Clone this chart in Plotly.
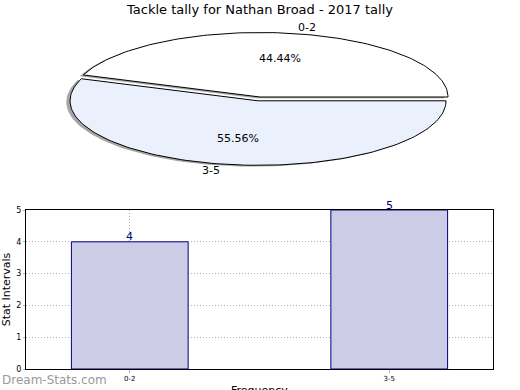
import numpy as np
import plotly.graph_objects as go

# ---- data ----
TITLE = "Tackle tally for Nathan Broad - 2017 tally"
pie_labels = ["0-2", "3-5"]
pie_values = [4, 5]
bar_categories = ["0-2", "3-5"]
bar_values = [4, 5]
y_ticks = [0, 1, 2, 3, 4, 5]

# ---- styles ----
FONT = "DejaVu Sans"
pie_colors = ["#FFFFFF", "#EBF1FC"]
explode = [0.0, 0.06]
bar_fill = "#CCCCE6"
bar_edge = "#000080"

W, H = 520, 390

def py(p):  # pixel-from-top -> paper y
    return 1 - p / H

def px(p):
    return p / W

fig = go.Figure()

# ---- pie drawn as an elliptical (tilted) pie on hidden axes ----
total = float(sum(pie_values))
start = 0.0
wedges = []
for lab, val, col, ex in zip(pie_labels, pie_values, pie_colors, explode):
    frac = val / total
    t1 = start
    t2 = start + frac * 360.0
    mid = np.deg2rad((t1 + t2) / 2)
    cx, cy = ex * np.cos(mid), ex * np.sin(mid)
    th = np.deg2rad(np.linspace(t1, t2, 120))
    xs = np.concatenate([[cx], cx + np.cos(th), [cx]])
    ys = np.concatenate([[cy], cy + np.sin(th), [cy]])
    wedges.append((lab, frac, col, cx, cy, mid, xs, ys))
    start = t2

# shadows first
for lab, frac, col, cx, cy, mid, xs, ys in wedges:
    fig.add_trace(go.Scatter(x=xs - 0.02, y=ys - 0.02, mode="lines", fill="toself",
                             fillcolor="rgba(77,77,77,0.5)", line=dict(width=0),
                             hoverinfo="skip", showlegend=False, xaxis="x2", yaxis="y2"))
for lab, frac, col, cx, cy, mid, xs, ys in wedges:
    fig.add_trace(go.Scatter(x=xs, y=ys, mode="lines", fill="toself", fillcolor=col,
                             line=dict(color="black", width=1), hoverinfo="skip",
                             showlegend=False, xaxis="x2", yaxis="y2"))
    # label
    lx, ly = cx + 1.1 * np.cos(mid), cy + 1.1 * np.sin(mid)
    fig.add_annotation(x=lx, y=ly, xref="x2", yref="y2", text=lab, showarrow=False,
                       xanchor="left" if lx > 0 else "right", yanchor="middle",
                       font=dict(family=FONT, size=11, color="black"))
    # percentage
    tx, ty = cx + 0.6 * np.cos(mid), cy + 0.6 * np.sin(mid)
    fig.add_annotation(x=tx, y=ty, xref="x2", yref="y2", text=f"{frac*100:.2f}%",
                       showarrow=False, xanchor="center", yanchor="middle",
                       font=dict(family=FONT, size=11, color="black"))

# ---- bar chart ----
fig.add_trace(go.Bar(x=bar_categories, y=bar_values, width=0.45,
                     marker=dict(color=bar_fill, line=dict(color=bar_edge, width=1)),
                     showlegend=False, hoverinfo="skip", xaxis="x", yaxis="y"))
for c, v in zip(bar_categories, bar_values):
    fig.add_annotation(x=c, y=v, xref="x", yref="y", text=str(v), showarrow=False,
                       xanchor="center", yanchor="middle", yshift=5,
                       font=dict(family=FONT, size=11, color=bar_edge))

pie_left, pie_right = 60, 460
pie_top, pie_bot = 20, 185
a, b = 188.0, 64.5
pcx, pcy = 260.0, 97.0

GRID = dict(showgrid=True, gridcolor="#b0b0b0", griddash="1px,2px", gridwidth=1)

fig.update_layout(
    width=W, height=H,
    margin=dict(l=0, r=0, t=0, b=0, autoexpand=False),
    paper_bgcolor="white", plot_bgcolor="white",
    font=dict(family=FONT, color="black"),
    title=dict(text=TITLE, x=0.5, xanchor="center", y=py(9), yanchor="middle",
               font=dict(family=FONT, size=13, color="black")),
    xaxis2=dict(domain=[px(pie_left), px(pie_right)],
                range=[(pie_left - pcx) / a, (pie_right - pcx) / a],
                visible=False, anchor="y2", automargin=False),
    yaxis2=dict(domain=[py(pie_bot), py(pie_top)],
                range=[(pcy - pie_bot) / b, (pcy - pie_top) / b],
                visible=False, anchor="x2", automargin=False),
    xaxis=dict(domain=[px(26), px(493)], range=[-0.4, 1.4], anchor="y", automargin=False,
               showline=True, mirror=True, linecolor="black", linewidth=1,
               ticks="outside", ticklen=3, tickcolor="#b0b0b0",
               tickfont=dict(family=FONT, size=7, color="black"), zeroline=False, **GRID),
    yaxis=dict(domain=[py(369), py(210)], range=[0, 5], anchor="x", automargin=False,
               tickvals=y_ticks, ticktext=[str(t) for t in y_ticks],
               showline=True, mirror=True, linecolor="black", linewidth=1,
               ticks="outside", ticklen=2, tickcolor="#b0b0b0",
               tickfont=dict(family=FONT, size=8, color="black"), zeroline=False,
               title=dict(text="Stat Intervals", font=dict(family=FONT, size=11),
                          standoff=6), **GRID),
)

fig.add_annotation(x=px(259), y=py(382), xref="paper", yref="paper", text="Frequency",
                   showarrow=False, xanchor="center", yanchor="top",
                   font=dict(family=FONT, size=11, color="black"))
fig.add_annotation(x=0, y=py(380), xref="paper", yref="paper", text="Dream-Stats.com",
                   showarrow=False, xanchor="left", yanchor="middle",
                   font=dict(family=FONT, size=12, color="#999999"))

fig.write_html("out.html", config={"displayModeBar": False},
               post_script="document.body.style.margin='0';")
